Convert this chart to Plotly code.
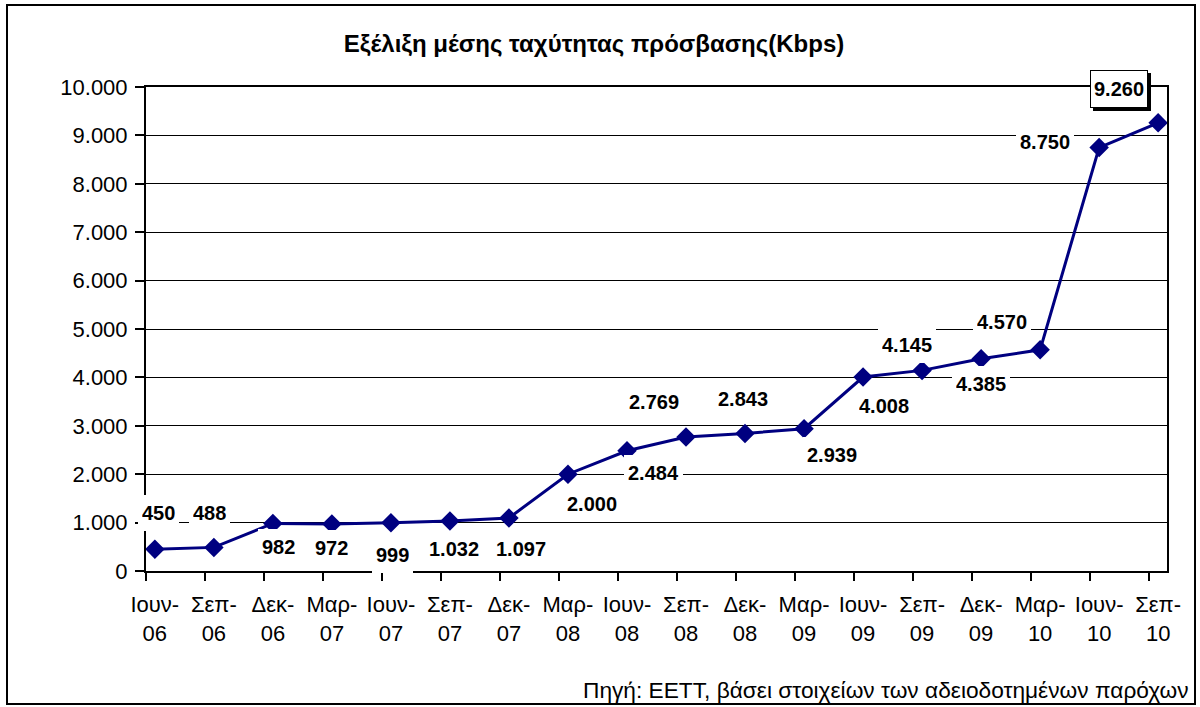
import plotly.graph_objects as go

# ---- data ----
categories = ["Ιουν-<br>06", "Σεπ-<br>06", "Δεκ-<br>06", "Μαρ-<br>07", "Ιουν-<br>07", "Σεπ-<br>07",
              "Δεκ-<br>07", "Μαρ-<br>08", "Ιουν-<br>08", "Σεπ-<br>08", "Δεκ-<br>08", "Μαρ-<br>09",
              "Ιουν-<br>09", "Σεπ-<br>09", "Δεκ-<br>09", "Μαρ-<br>10", "Ιουν-<br>10", "Σεπ-<br>10"]
speed_kbps = [450, 488, 982, 972, 999, 1032, 1097, 2000, 2484, 2769, 2843, 2939,
              4008, 4145, 4385, 4570, 8750, 9260]
y_tickvals = [0, 1000, 2000, 3000, 4000, 5000, 6000, 7000, 8000, 9000, 10000]

title_text = "Εξέλιξη μέσης ταχύτητας πρόσβασης(Kbps)"
source_text = "Πηγή: ΕΕΤΤ, βάσει στοιχείων των αδειοδοτημένων παρόχων"

# ---- label placement offsets (px) ----
label_dx = [4, -4, 6, 0, 2, 4, 12, 24, 27, -32, -2, 28, 21, -15, 0, -38, -54, -39]
label_dy = [36, 34, -24, -24, -32, -28, -31, -30, -22, 35, 34, -26, -29, 25, -25, 28, 6, 34]

FONT = "Arial, Liberation Sans, sans-serif"
NAVY = "#000080"

# plot area in pixels
L, R, T, B = 146, 1167, 87, 571
W, H = 1200, 707
PW, PH = R - L, B - T

def px2paper_x(px):
    return (px - L) / PW

def px2paper_y(py):
    return (B - py) / PH

n = len(categories)
xs = list(range(n))

fig = go.Figure()
fig.add_trace(go.Scatter(
    x=xs, y=speed_kbps, mode="lines+markers",
    line=dict(color=NAVY, width=3),
    marker=dict(symbol="diamond", size=15, color=NAVY),
    showlegend=False, hoverinfo="skip"))
# helper trace for offset tick axis
fig.add_trace(go.Scatter(x=[0], y=[0], xaxis="x2", mode="markers",
                         marker=dict(opacity=0), showlegend=False, hoverinfo="skip"))

def fmt(v):
    return f"{v:,}".replace(",", ".")

annotations = []
for i, v in enumerate(speed_kbps):
    if i == n - 1:
        # shadow
        annotations.append(dict(x=i, y=v, xref="x", yref="y", text=" ", showarrow=False,
                                xshift=label_dx[i] + 3, yshift=label_dy[i] - 3,
                                width=50, height=30, borderpad=3, borderwidth=1,
                                bgcolor="black", bordercolor="black",
                                font=dict(family=FONT, size=20, color="black")))
        annotations.append(dict(x=i, y=v, xref="x", yref="y", text=f"<b>{fmt(v)}</b>",
                                showarrow=False, xshift=label_dx[i], yshift=label_dy[i],
                                width=50, height=30, borderpad=3, borderwidth=1,
                                bgcolor="white", bordercolor="black",
                                font=dict(family=FONT, size=20, color="black")))
    else:
        annotations.append(dict(x=i, y=v, xref="x", yref="y", text=f"<b>{fmt(v)}</b>",
                                showarrow=False, xshift=label_dx[i], yshift=label_dy[i],
                                height=28, borderpad=4, borderwidth=0,
                                bgcolor="white",
                                font=dict(family=FONT, size=20, color="black")))

annotations.append(dict(x=px2paper_x(1191), y=px2paper_y(690), xref="paper", yref="paper",
                        text=source_text, showarrow=False, xanchor="right", yanchor="middle",
                        font=dict(family=FONT, size=22.7, color="black")))

shapes = [dict(type="rect", xref="paper", yref="paper",
               x0=px2paper_x(7), x1=px2paper_x(1195), y0=px2paper_y(704), y1=px2paper_y(5),
               line=dict(color="black", width=2), fillcolor="rgba(0,0,0,0)", layer="below")]

fig.update_layout(
    width=W, height=H,
    margin=dict(l=L, r=W - R, t=T, b=H - B, autoexpand=False),
    paper_bgcolor="white", plot_bgcolor="white",
    separators=",.",
    title=dict(text=f"<b>{title_text}</b>", x=594 / W, y=1 - 44 / H,
               xanchor="center", yanchor="middle",
               font=dict(family=FONT, size=24, color="black")),
    xaxis=dict(range=[-0.15, n - 1 + 0.15], tickmode="array", tickvals=xs, ticktext=categories,
               ticks="", showgrid=False, zeroline=False,
               showline=True, linecolor="black", linewidth=2, mirror=True,
               tickfont=dict(family=FONT, size=22, color="black"), ticklabelstandoff=13),
    xaxis2=dict(overlaying="x", anchor="y", side="bottom", range=[-0.15, n - 1 + 0.15],
                tickmode="array", tickvals=[i - 0.15 for i in xs], ticks="outside",
                ticklen=9, tickwidth=1.5, tickcolor="black", showticklabels=False,
                showgrid=False, zeroline=False, showline=False),
    yaxis=dict(range=[0, 10000], tickmode="array", tickvals=y_tickvals, tickformat=",d",
               ticks="outside", ticklen=9, tickwidth=1.5, tickcolor="black",
               showgrid=True, gridcolor="black", gridwidth=1.2, zeroline=False,
               showline=True, linecolor="black", linewidth=2, mirror=True,
               tickfont=dict(family=FONT, size=22, color="black"), ticklabelstandoff=3),
    annotations=annotations,
    shapes=shapes,
)

fig.write_html("out.html", config={"displayModeBar": False},
               post_script="document.body.style.margin='0';document.body.style.overflow='hidden';")
